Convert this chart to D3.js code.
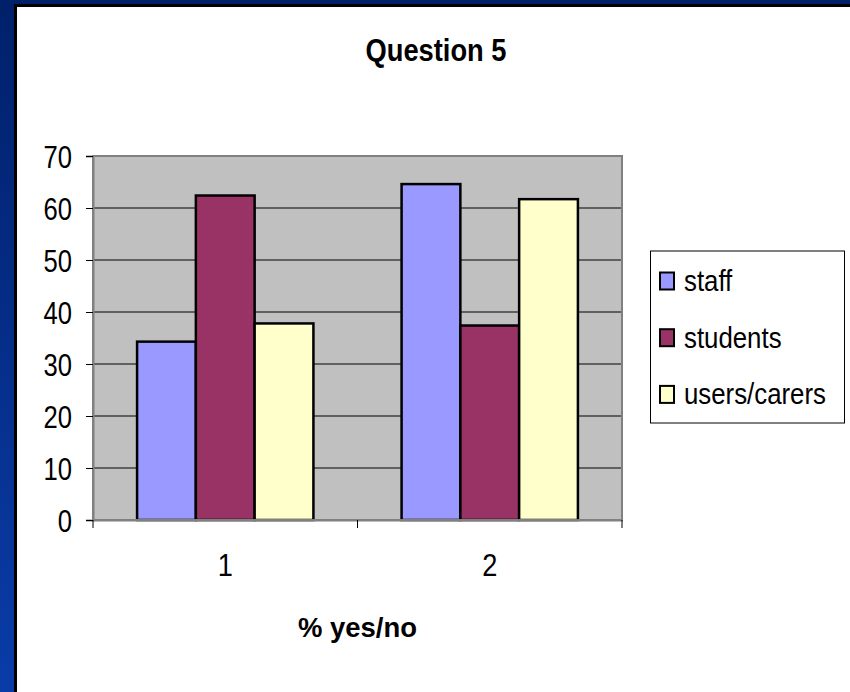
<!DOCTYPE html>
<html>
<head>
<meta charset="utf-8">
<script src="https://cdn.jsdelivr.net/npm/d3@7/dist/d3.min.js"></script>
<style>
html,body{margin:0;padding:0;background:#fff;}
svg{display:block;font-family:"Liberation Sans",Arial,sans-serif;}
</style>
</head>
<body>
<svg id="chart" width="850" height="692"></svg>
<script>
// ---- data ----
const categories = ["1", "2"];
const seriesNames = ["staff", "students", "users/carers"];
const staff = [34.3, 64.6];
const students = [62.4, 37.4];
const usersCarers = [37.8, 61.7];
const seriesColors = ["#9999FF", "#993366", "#FFFFCC"];
const yTicks = [0, 10, 20, 30, 40, 50, 60, 70];
const titleText = "Question 5";
const xAxisTitle = "% yes/no";

const seriesValues = [staff, students, usersCarers];

const svg = d3.select("#chart");

// background frame
const defs = svg.append("defs");
const grad = defs.append("linearGradient").attr("id", "bg").attr("x1", 0).attr("y1", 0).attr("x2", 0).attr("y2", 1);
grad.append("stop").attr("offset", "0%").attr("stop-color", "#00206a");
grad.append("stop").attr("offset", "100%").attr("stop-color", "#0a3ca8");
svg.append("rect").attr("width", 850).attr("height", 692).attr("fill", "url(#bg)");
svg.append("rect").attr("x", 14).attr("y", 4).attr("width", 840).attr("height", 700).attr("fill", "#000");
svg.append("rect").attr("x", 17).attr("y", 7).attr("width", 840).attr("height", 700).attr("fill", "#fff");

// helper to condense text
function condense(sel, k) {
  sel.each(function() {
    const len = this.getComputedTextLength();
    d3.select(this).attr("textLength", len * k).attr("lengthAdjust", "spacingAndGlyphs");
  });
}

const plot = {left: 93, right: 622, top: 156, bottom: 520};

const x = d3.scaleBand().domain(categories).range([plot.left, plot.right]).paddingInner(0).paddingOuter(0);
const xs = d3.scaleBand().domain(seriesNames).range([0, x.bandwidth()]).paddingInner(0).paddingOuter(0.75);
const y = d3.scaleLinear().domain([0, 70]).range([plot.bottom, plot.top]);

// plot background
svg.append("rect").attr("x", plot.left).attr("y", plot.top)
  .attr("width", plot.right - plot.left).attr("height", plot.bottom - plot.top)
  .attr("fill", "#C0C0C0");

// gridlines
svg.append("g").selectAll("line").data(yTicks.filter(t => t > 0 && t < 70)).join("line")
  .attr("x1", plot.left).attr("x2", plot.right)
  .attr("y1", d => y(d)).attr("y2", d => y(d))
  .attr("stroke", "#000").attr("stroke-width", 1);

// bars
const groups = svg.append("g").selectAll("g").data(seriesNames).join("g");
groups.selectAll("rect").data((s, i) => categories.map((c, j) => ({c, s, v: seriesValues[i][j], col: seriesColors[i]})))
  .join("rect")
  .attr("x", d => x(d.c) + xs(d.s))
  .attr("y", d => y(d.v))
  .attr("width", xs.bandwidth())
  .attr("height", d => y(0) - y(d.v))
  .attr("fill", d => d.col)
  .attr("stroke", "#000").attr("stroke-width", 2.5);

// plot border
svg.append("rect").attr("x", plot.left).attr("y", plot.top)
  .attr("width", plot.right - plot.left).attr("height", plot.bottom - plot.top)
  .attr("fill", "none").attr("stroke", "#808080").attr("stroke-width", 2);

// y axis
const yAxis = svg.append("g").attr("transform", `translate(${plot.left},0)`)
  .call(d3.axisLeft(y).tickValues(yTicks).tickSize(7).tickPadding(14).tickFormat(d3.format("d")));
yAxis.select(".domain").attr("stroke", "#808080").attr("stroke-width", 2);
yAxis.selectAll(".tick line").attr("stroke", "#000");
yAxis.selectAll(".tick text").attr("font-size", 32).attr("fill", "#000")
  .attr("font-family", "Liberation Sans, Arial, sans-serif").attr("dy", "0.35em");
condense(yAxis.selectAll(".tick text"), 0.8);

// x axis
const xAxis = svg.append("g").attr("transform", `translate(0,${plot.bottom})`)
  .call(d3.axisBottom(x).tickSize(0).tickPadding(33));
xAxis.select(".domain").attr("stroke", "#808080").attr("stroke-width", 2);
xAxis.selectAll(".tick text").attr("font-size", 32).attr("fill", "#000")
  .attr("font-family", "Liberation Sans, Arial, sans-serif");
condense(xAxis.selectAll(".tick text"), 0.85);
// category boundary ticks
svg.append("g").selectAll("line").data([plot.left, ...categories.map(c => x(c) + x.bandwidth())]).join("line")
  .attr("x1", d => d).attr("x2", d => d)
  .attr("y1", plot.bottom).attr("y2", plot.bottom + 8)
  .attr("stroke", "#000").attr("stroke-width", 1);

// title
const t = svg.append("text").attr("x", 436).attr("y", 61).attr("text-anchor", "middle")
  .attr("font-size", 31).attr("font-weight", "bold").text(titleText);
condense(t, 0.88);

// x axis title
const xt = svg.append("text").attr("x", (plot.left + plot.right) / 2).attr("y", 637).attr("text-anchor", "middle")
  .attr("font-size", 28).attr("font-weight", "bold").text(xAxisTitle)
  .attr("textLength", 119).attr("lengthAdjust", "spacingAndGlyphs");

// legend
const legend = svg.append("g");
legend.append("rect").attr("x", 650.5).attr("y", 251).attr("width", 194).attr("height", 172)
  .attr("fill", "#fff").attr("stroke", "#000").attr("stroke-width", 1);
const li = legend.selectAll("g").data(seriesNames).join("g")
  .attr("transform", (d, i) => `translate(0,${281 + i * 56.7})`);
li.append("rect").attr("x", 660).attr("y", -8.5).attr("width", 14).attr("height", 17)
  .attr("fill", (d, i) => seriesColors[i]).attr("stroke", "#000").attr("stroke-width", 2);
const lt = li.append("text").attr("x", 684).attr("y", 10).attr("font-size", 30).text(d => d);
condense(lt, 0.86);
</script>
</body>
</html>
